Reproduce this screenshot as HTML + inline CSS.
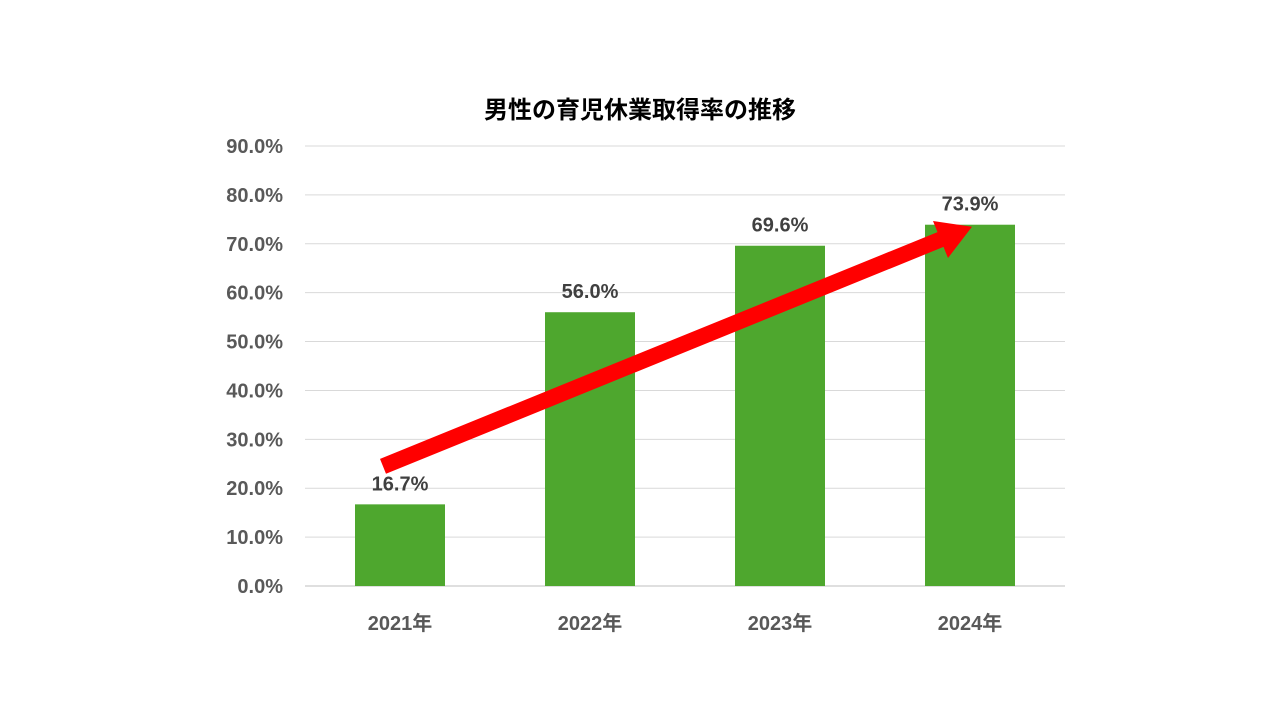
<!DOCTYPE html>
<html lang="ja">
<head>
<meta charset="utf-8">
<style>
  html,body{margin:0;padding:0;background:#fff;}
  body{width:1280px;height:720px;overflow:hidden;font-family:"Liberation Sans","Noto Sans CJK JP",sans-serif;}
</style>
</head>
<body>
<svg id="chart" width="1280" height="720" xmlns="http://www.w3.org/2000/svg">
  <text x="640" y="118" text-anchor="middle" font-size="24" font-weight="bold" fill="#000" font-family="Liberation Sans, Noto Sans CJK JP, sans-serif">男性の育児休業取得率の推移</text>
  <g id="grid"></g>
  <g id="yticks"></g>
  <g id="bars"></g>
  <g id="labels"></g>
  <g id="xticks"></g>
  <g id="arrow"></g>
</svg>
<script>
const categories = ["2021年","2022年","2023年","2024年"];
const values = [16.7, 56.0, 69.6, 73.9];
const valueLabels = ["16.7%","56.0%","69.6%","73.9%"];
const yTicks = [0,10,20,30,40,50,60,70,80,90];

const NS="http://www.w3.org/2000/svg";
const plotL=305, plotR=1065, y0=586, yTop=146, yMax=90;
const bandW=(plotR-plotL)/categories.length, barW=90;
function y(v){return y0-(v/yMax)*(y0-yTop);}
function xc(i){return plotL+bandW*(i+0.5);}
function mk(tag,attrs,parent){const e=document.createElementNS(NS,tag);for(const k in attrs)e.setAttribute(k,attrs[k]);parent.appendChild(e);return e;}
const font="Liberation Sans, Noto Sans CJK JP, sans-serif";

const grid=document.getElementById('grid'), yt=document.getElementById('yticks');
yTicks.forEach(t=>{
  const l=mk('line',{x1:plotL,x2:plotR,y1:y(t),y2:y(t),stroke:t===0?'#bfbfbf':'#d9d9d9','stroke-width':1},grid);
  
  
  const tx=mk('text',{x:283,y:y(t)+7,'text-anchor':'end','font-size':20,'font-weight':'bold',fill:'#595959','font-family':font},yt);
  tx.textContent=t.toFixed(1)+'%';
  
  
});

const bars=document.getElementById('bars'), lbl=document.getElementById('labels'), xt=document.getElementById('xticks');
values.forEach((v,i)=>{
  const r=mk('rect',{x:xc(i)-barW/2,y:y(v),width:barW,height:y0-y(v),fill:'#4ea72e'},bars);
  
  
  const t=mk('text',{x:xc(i),y:y(v)-14,'text-anchor':'middle','font-size':20,'font-weight':'bold',fill:'#404040','font-family':font},lbl);
  t.textContent=valueLabels[i];
  
  
  const c=mk('text',{x:xc(i),y:630,'text-anchor':'middle','font-size':20,'font-weight':'bold',fill:'#595959','font-family':font},xt);
  c.textContent=categories[i];
  
  
});

// trend arrow
const ar=document.getElementById('arrow');
const x1=xc(0)-17, y1=y(values[0])-38, x2=xc(3)+2, y2=y(values[values.length-1])+2;
const dx=x2-x1, dy=y2-y1, len=Math.hypot(dx,dy), ux=dx/len, uy=dy/len, px=-uy, py=ux;
const hw=8, headL=34, headW=20;
const bx=x2-ux*headL, by=y2-uy*headL;
const pts=[[x1+px*hw,y1+py*hw],[bx+px*hw,by+py*hw],[bx+px*headW,by+py*headW],[x2,y2],[bx-px*headW,by-py*headW],[bx-px*hw,by-py*hw],[x1-px*hw,y1-py*hw]];
const poly=mk('polygon',{points:pts.map(p=>p[0].toFixed(1)+','+p[1].toFixed(1)).join(' '),fill:'#ff0000'},ar);


</script>
</body>
</html>
